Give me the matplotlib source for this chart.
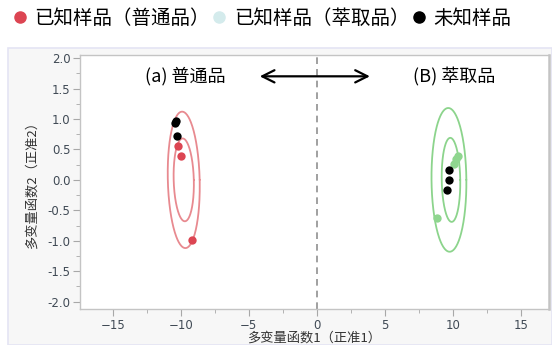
import numpy as np
import matplotlib.pyplot as plt
from matplotlib.lines import Line2D
from matplotlib.patches import Rectangle
from matplotlib.ticker import MultipleLocator

plt.rcParams['font.family'] = ['Noto Sans CJK SC', 'DejaVu Sans']

# canonical scores (Can1, Can2)
normal_x = [-10.2, -10.0, -9.17]
normal_y = [0.56, 0.39, -0.98]
extract_x = [10.39, 10.22, 10.07, 8.85]
extract_y = [0.39, 0.34, 0.26, -0.62]
unknown_x = [-10.44, -10.37, -10.3, 9.73, 9.70, 9.58]
unknown_y = [0.93, 0.97, 0.72, 0.16, 0.0, -0.17]

# confidence ellipses: center x, center y, half width, half height, top shift
ell_cx = [-9.78, -9.78, 9.70, 9.85]
ell_cy = [0.0, 0.0, 0.0, 0.0]
ell_rx = [1.17, 0.74, 1.28, 0.68]
ell_ry = [1.12, 0.68, 1.18, 0.69]
ell_shift = [-0.12, -0.08, -0.05, -0.05]
ell_group = ['normal', 'normal', 'extract', 'extract']

red = '#dc4552'
red_line = '#e88a90'
green = '#8fd68f'
green_line = '#8cd48c'
legend_light = '#d4ebec'

fig = plt.figure(figsize=(5.52, 3.45), dpi=100)
W, H = 552, 345

# grey panel behind the plot
panel = Rectangle((8 / W, 0), 1 - 8 / W, 1 - 48 / H, transform=fig.transFigure,
                  facecolor='#f7f7f7', edgecolor='#e4e4f4', linewidth=1.2, zorder=0)
fig.patches.append(panel)

ax = fig.add_axes([80 / W, 1 - 309 / H, (549 - 80) / W, (309 - 55) / H])
ax.set_zorder(2)
ax.set_facecolor('white')
ax.set_xlim(-17.4, 17.05)
ax.set_ylim(-2.12, 2.05)

t = np.linspace(0, 2 * np.pi, 301)
for cx, cy, rx, ry, sh, g in zip(ell_cx, ell_cy, ell_rx, ell_ry, ell_shift, ell_group):
    ex = cx + rx * np.cos(t) + sh * np.sin(t)
    ey = cy + ry * np.sin(t)
    ax.plot(ex, ey, color=red_line if g == 'normal' else green_line, lw=1.3,
            solid_joinstyle='round', solid_capstyle='round', zorder=2)

ax.axvline(0, color='#909090', lw=1.2, ls=(0, (4, 3)), zorder=1)

ax.scatter(normal_x, normal_y, s=36, color=red, zorder=4, linewidths=0)
ax.scatter(extract_x, extract_y, s=36, color=green, zorder=4, linewidths=0)
ax.scatter(unknown_x, unknown_y, s=36, color='black', zorder=5, linewidths=0)

ax.annotate('', xy=(-4.4, 1.7), xytext=(4.1, 1.7),
            arrowprops=dict(arrowstyle='<->', color='black', lw=1.6,
                            mutation_scale=22))
ax.text(-9.7, 1.7, '(a) 普通品', fontsize=13, ha='center', va='center')
ax.text(10.1, 1.7, '(B) 萃取品', fontsize=13, ha='center', va='center')

ax.xaxis.set_major_locator(MultipleLocator(5))
ax.xaxis.set_minor_locator(MultipleLocator(2.5))
ax.yaxis.set_major_locator(MultipleLocator(0.5))
ax.yaxis.set_minor_locator(MultipleLocator(0.25))
ax.yaxis.set_major_formatter(plt.FuncFormatter(lambda v, p: f'{v:.1f}'))
ax.tick_params(which='major', length=5, color='#a8a8a8', labelsize=8.5,
               labelcolor='#404a55', pad=2)
ax.tick_params(which='minor', length=3, color='#a8a8a8')
for lab in ax.get_xticklabels() + ax.get_yticklabels():
    lab.set_family('DejaVu Sans')
for name, sp in ax.spines.items():
    sp.set_color('#c4c4c4')
    sp.set_linewidth(1.0)
ax.spines['right'].set_linewidth(1.8)

ax.set_xlabel('多变量函数1（正准1）', fontsize=9.5, color='#333333', labelpad=0)
ax.set_ylabel('多变量函数2（正准2）', fontsize=9.5, color='#333333', labelpad=6)

handles = [
    Line2D([], [], ls='none', marker='o', markersize=8, color=red),
    Line2D([], [], ls='none', marker='o', markersize=8, color=legend_light),
    Line2D([], [], ls='none', marker='o', markersize=8, color='black'),
]
labels = ['已知样品（普通品）', '已知样品（萃取品）', '未知样品']
fig.legend(handles, labels, loc='center left', bbox_to_anchor=(4 / W, 1 - 18 / H),
           ncol=3, frameon=False, fontsize=14, handlelength=0.8,
           handletextpad=0.35, columnspacing=0.1, borderaxespad=0)

fig.savefig('out.png', dpi=100)
